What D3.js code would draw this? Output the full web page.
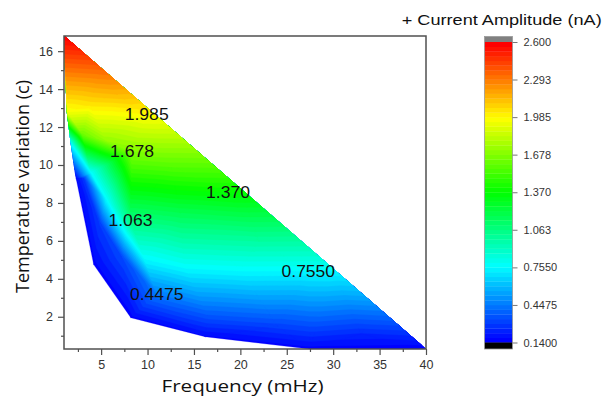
<!DOCTYPE html>
<meta charset="utf-8">
<script src="https://cdn.jsdelivr.net/npm/d3@7"></script>
<style>
  body { margin: 0; background: #fff; }
  text { font-family: "Liberation Sans", Arial, sans-serif; }
  .title { font-family: "Open Sans", "Liberation Sans", sans-serif; }
</style>
<svg id="chart" width="607" height="400"></svg>
<script>

// scattered measurements: frequency (mHz), temperature variation (c), current amplitude (nA)
var freq = [1.0, 1.35, 1.75, 2.3, 4.2, 8.2, 16.2, 27.5, 40,
            5, 10, 15, 20, 25, 30, 35,
            3.8, 6.5, 3.0, 5.5, 12.5, 8.33, 9.91, 18.67, 8.16, 27.32, 10.99, 13.5, 22,
            3.9, 5.6, 9.7, 14, 20,
            3.1, 4.9, 7.2, 16.5, 24, 33];
var temp = [16.8, 12.8, 11.2, 9.3, 4.75, 1.95, 0.95, 0.3, 0.3,
            15.08, 12.97, 10.85, 8.74, 6.62, 4.51, 2.40,
            13.2, 13.8, 11.6, 11.3, 10.0, 10.72, 12.68, 8.55, 7.07, 4.41, 3.19, 7.5, 6.0,
            9.6, 8.15, 5.0, 4.7, 4.5,
            9.3, 6.9, 5.2, 2.1, 1.5, 1.1];
var amp = [2.60, 1.95, 0.80, 0.17, 0.16, 0.16, 0.17, 0.16, 0.15,
           2.34, 2.02, 1.71, 1.40, 1.08, 0.77, 0.46,
           2.04, 2.15, 1.62, 1.72, 1.58, 1.678, 1.985, 1.37, 1.063, 0.755, 0.4475, 1.18, 0.99,
           0.76, 0.76, 0.75, 0.78, 0.77,
           0.28, 0.30, 0.33, 0.37, 0.31, 0.25];

var levelTicks = [0.14, 0.4475, 0.755, 1.063, 1.37, 1.678, 1.985, 2.293, 2.6];
var levelTickLabels = ["0.1400", "0.4475", "0.7550", "1.063", "1.370", "1.678", "1.985", "2.293", "2.600"];
var subLevels = 8;

var labelText = ["1.985", "1.678", "1.370", "1.063", "0.7550", "0.4475"];
var labelFreq = [9.91, 8.33, 18.67, 8.16, 27.32, 10.99];
var labelTemp = [12.68, 10.72, 8.55, 7.07, 4.41, 3.19];

var xTicks = [5, 10, 15, 20, 25, 30, 35, 40];
var xMinor = [2.5, 7.5, 12.5, 17.5, 22.5, 27.5, 32.5, 37.5];
var yTicks = [2, 4, 6, 8, 10, 12, 14, 16];
var yMinor = [1, 3, 5, 7, 9, 11, 13, 15];

var svg = d3.select("#chart");
var plot = {left: 64, top: 36, right: 426, bottom: 349};

var x = d3.scaleLinear().domain([1, 40]).range([plot.left, plot.right]);
var y = d3.scaleLinear().domain([0.3, 16.8]).range([plot.bottom, plot.top]);

var nBands = (levelTicks.length - 1) * subLevels;
var zMin = levelTicks[0], zMax = levelTicks[levelTicks.length - 1];
var levels = d3.range(nBands + 1).map(function(i) { return zMin + i * (zMax - zMin) / nBands; });

var rainbow = d3.scaleLinear()
    .domain([0, 0.25, 0.5, 0.75, 1])
    .range(["#0000ff", "#00ffff", "#00ff00", "#ffff00", "#ff0000"]);
function bandColor(i) { return rainbow(i / (nBands - 1)); }

// triangulate in pixel space
var pts = freq.map(function(f, i) { return [x(f), y(temp[i]), amp[i]]; });
var delaunay = d3.Delaunay.from(pts, function(p) { return p[0]; }, function(p) { return p[1]; });
var tris = [];
for (var i = 0; i < delaunay.triangles.length; i += 3) {
    tris.push([pts[delaunay.triangles[i]], pts[delaunay.triangles[i + 1]], pts[delaunay.triangles[i + 2]]]);
}

// keep part of polygon where value >= lv
function clipAbove(poly, lv) {
    var out = [];
    for (var i = 0; i < poly.length; i++) {
        var a = poly[i], b = poly[(i + 1) % poly.length];
        var ina = a[2] >= lv, inb = b[2] >= lv;
        if (ina) out.push(a);
        if (ina !== inb) {
            var s = (lv - a[2]) / (b[2] - a[2]);
            out.push([a[0] + s * (b[0] - a[0]), a[1] + s * (b[1] - a[1]), lv]);
        }
    }
    return out;
}

svg.append("clipPath").attr("id", "clip")
  .append("rect")
    .attr("x", plot.left).attr("y", plot.top)
    .attr("width", plot.right - plot.left).attr("height", plot.bottom - plot.top);

var field = svg.append("g").attr("clip-path", "url(#clip)");

d3.range(nBands).forEach(function(k) {
    var d = "";
    tris.forEach(function(t) {
        var p = clipAbove(t, levels[k]);
        if (p.length >= 3) d += "M" + p.map(function(q) { return q[0].toFixed(2) + "," + q[1].toFixed(2); }).join("L") + "Z";
    });
    if (d) field.append("path").attr("d", d).attr("fill", bandColor(k))
        .attr("stroke", bandColor(k)).attr("stroke-width", 0.3);
});

// contour labels
var labels = svg.append("g");
labelText.forEach(function(s, i) {
    var t = labels.append("text")
        .attr("x", x(labelFreq[i])).attr("y", y(labelTemp[i]))
        .attr("text-anchor", "middle").attr("dy", "0.36em")
        .style("font-size", "16px").attr("fill", "#111")
        .text(s);
    t.attr("textLength", s.length == 5 ? 44 : 53.5).attr("lengthAdjust", "spacingAndGlyphs");
});

// frame
svg.append("rect")
    .attr("x", plot.left).attr("y", plot.top)
    .attr("width", plot.right - plot.left).attr("height", plot.bottom - plot.top)
    .attr("fill", "none").attr("stroke", "#505050").attr("stroke-width", 1.5);

var xAxis = svg.append("g").attr("transform", "translate(0," + plot.bottom + ")")
    .call(d3.axisBottom(x).tickValues(xTicks).tickSize(6).tickPadding(5));
svg.append("g").attr("transform", "translate(0," + plot.bottom + ")")
    .call(d3.axisBottom(x).tickValues(xMinor).tickSize(3).tickFormat(""));
var yAxis = svg.append("g").attr("transform", "translate(" + plot.left + ",0)")
    .call(d3.axisLeft(y).tickValues(yTicks).tickSize(6).tickPadding(5));
svg.append("g").attr("transform", "translate(" + plot.left + ",0)")
    .call(d3.axisLeft(y).tickValues(yMinor).tickSize(3).tickFormat(""));

svg.selectAll(".domain").remove();
svg.selectAll(".tick line").attr("stroke", "#505050").attr("stroke-width", 1.2);
svg.selectAll(".tick text").attr("fill", "#333")
    .style("font-size", "12.5px").style("font-family", "'Liberation Sans', Arial, sans-serif");

svg.append("text").attr("class", "title")
    .attr("x", 242.5).attr("y", 392)
    .attr("text-anchor", "middle")
    .style("font-size", "17px").attr("fill", "#111")
    .attr("textLength", 162).attr("lengthAdjust", "spacingAndGlyphs")
    .text("Frequency (mHz)");

svg.append("text").attr("class", "title")
    .attr("transform", "translate(29,186.5) rotate(-90)")
    .attr("text-anchor", "middle")
    .style("font-size", "18px").attr("fill", "#111")
    .attr("textLength", 213).attr("lengthAdjust", "spacingAndGlyphs")
    .text("Temperature variation (c)");

// color scale legend
var cb = {x: 484.5, w: 28, top: 42, bottom: 342.5};
var cy = d3.scaleLinear().domain([zMin, zMax]).range([cb.bottom, cb.top]);
var legend = svg.append("g");
legend.selectAll("rect.band")
    .data(d3.range(nBands))
  .enter().append("rect")
    .attr("class", "band")
    .attr("x", cb.x).attr("width", cb.w)
    .attr("y", function(k) { return cy(levels[k + 1]); })
    .attr("height", function(k) { return cy(levels[k]) - cy(levels[k + 1]) + 0.3; })
    .attr("fill", function(k) { return bandColor(k); });
legend.append("rect").attr("x", cb.x).attr("width", cb.w)
    .attr("y", cb.top - 5.5).attr("height", 5.5).attr("fill", "#808080");
legend.append("rect").attr("x", cb.x).attr("width", cb.w)
    .attr("y", cb.bottom).attr("height", 6.5).attr("fill", "#000");
legend.append("rect").attr("x", cb.x).attr("width", cb.w)
    .attr("y", cb.top - 5.5).attr("height", cb.bottom - cb.top + 12)
    .attr("fill", "none").attr("stroke", "#999").attr("stroke-width", 0.8);

var cAxis = legend.append("g").attr("transform", "translate(" + (cb.x + cb.w) + ",0)")
    .call(d3.axisRight(cy).tickValues(levelTicks).tickSize(5).tickPadding(6)
        .tickFormat(function(d, i) { return levelTickLabels[i]; }));
cAxis.select(".domain").remove();
cAxis.selectAll(".tick line").attr("stroke", "#777").attr("stroke-width", 1);
cAxis.selectAll(".tick text").attr("fill", "#333")
    .style("font-size", "11px").style("font-family", "'Liberation Sans', Arial, sans-serif");

svg.append("text")
    .attr("x", 401.7).attr("y", 25)
    .style("font-size", "15px").attr("fill", "#111")
    .attr("textLength", 200).attr("lengthAdjust", "spacingAndGlyphs")
    .text("+ Current Amplitude (nA)");

</script>
